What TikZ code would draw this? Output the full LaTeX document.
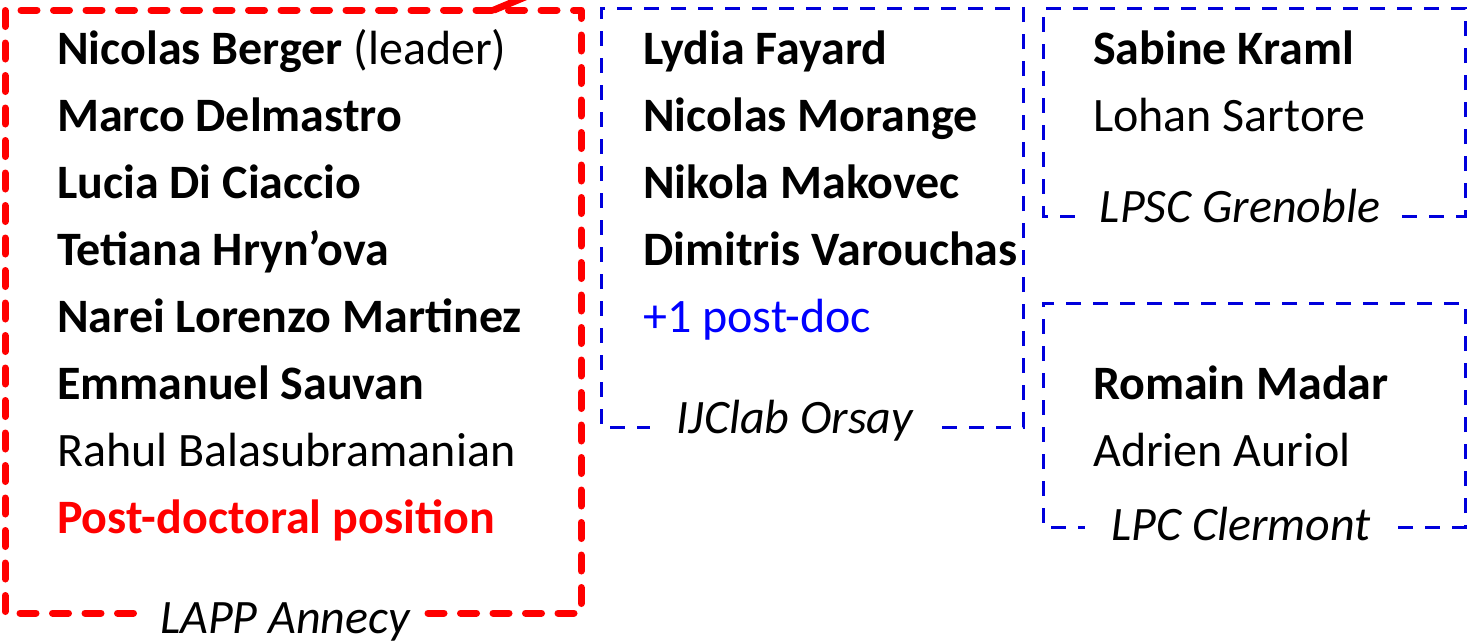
\documentclass[tikz,border=0pt]{standalone}
\usepackage{fontspec}
\setmainfont{Carlito}
\definecolor{boxblue}{RGB}{0,0,220}
\definecolor{txtblue}{RGB}{0,0,255}
\begin{document}
\begin{tikzpicture}[x=1pt,y=-1pt,
  nm/.style={anchor=base west, inner sep=0pt, font=\fontsize{48}{58}\selectfont},
  lab/.style={anchor=base, inner sep=0pt, font=\fontsize{48}{58}\selectfont\itshape},
  redbox/.style={draw=red, line width=7pt, dash pattern=on 16pt off 16.5pt, line cap=round, line join=round},
  bluebox/.style={draw=boxblue, line width=3pt, dash pattern=on 15pt off 12pt}]
\useasboundingbox (0,0) rectangle (1468,641);

% ---- LAPP Annecy (red)
\coordinate (rTL) at (5,10);
\coordinate (rTR) at (581,10);
\coordinate (rBR) at (581,613);
\coordinate (rBL) at (5,613);
\coordinate (rGL) at (136,613);
\coordinate (rGR) at (428,613);
\draw[redbox] (rGR) -- (rBR) -- (rTR) -- (rTL) -- (rBL) -- (rGL);
\coordinate (rS1) at (494,10);
\coordinate (rS2) at (537,-8);
\draw[red, line width=7pt, line cap=round] (rS1) -- (rS2);
\node[lab] (lapp) at (285,633) {LAPP Annecy};

\node[nm] (a1) at (57,64)  {\textbf{Nicolas Berger} (leader)};
\node[nm] (a2) at (57,131) {\textbf{Marco Delmastro}};
\node[nm] (a3) at (57,198) {\textbf{Lucia Di Ciaccio}};
\node[nm] (a4) at (57,265) {\textbf{Tetiana Hryn’ova}};
\node[nm] (a5) at (57,332) {\textbf{Narei Lorenzo Martinez}};
\node[nm] (a6) at (57,399) {\textbf{Emmanuel Sauvan}};
\node[nm] (a7) at (57,466) {Rahul Balasubramanian};
\node[nm, text=red] (a8) at (57,533) {\textbf{Post-doctoral position}};

% ---- IJClab Orsay
\coordinate (bTL) at (601,8);
\coordinate (bTR) at (1023,8);
\coordinate (bBR) at (1023,427);
\coordinate (bBL) at (601,427);
\coordinate (bGL) at (650,427);
\coordinate (bGR) at (942,427);
\draw[bluebox] (bGR) -- (bBR) -- (bTR) -- (bTL) -- (bBL) -- (bGL);
\node[lab] (orsay) at (795,433) {IJClab Orsay};

\node[nm] (b1) at (643,64)  {\textbf{Lydia Fayard}};
\node[nm] (b2) at (643,131) {\textbf{Nicolas Morange}};
\node[nm] (b3) at (643,198) {\textbf{Nikola Makovec}};
\node[nm] (b4) at (643,265) {\textbf{Dimitris Varouchas}};
\node[nm, text=txtblue] (b5) at (643,332) {+1 post-doc};

% ---- LPSC Grenoble
\coordinate (cTL) at (1043,8);
\coordinate (cTR) at (1465,8);
\coordinate (cBR) at (1465,216);
\coordinate (cBL) at (1043,216);
\coordinate (cGL) at (1080,216);
\coordinate (cGR) at (1402,216);
\draw[bluebox] (cGR) -- (cBR) -- (cTR) -- (cTL) -- (cBL) -- (cGL);
\node[lab] (gren) at (1240,222) {LPSC Grenoble};

\node[nm] (c1) at (1093,64)  {\textbf{Sabine Kraml}};
\node[nm] (c2) at (1093,131) {Lohan Sartore};

% ---- LPC Clermont
\coordinate (dTL) at (1043,303);
\coordinate (dTR) at (1465,303);
\coordinate (dBR) at (1465,527);
\coordinate (dBL) at (1043,527);
\coordinate (dGL) at (1085,527);
\coordinate (dGR) at (1398,527);
\draw[bluebox] (dGR) -- (dBR) -- (dTR) -- (dTL) -- (dBL) -- (dGL);
\node[lab] (clerm) at (1241,540) {LPC Clermont};

\node[nm] (d1) at (1093,399) {\textbf{Romain Madar}};
\node[nm] (d2) at (1093,466) {Adrien Auriol};
\end{tikzpicture}
\end{document}
